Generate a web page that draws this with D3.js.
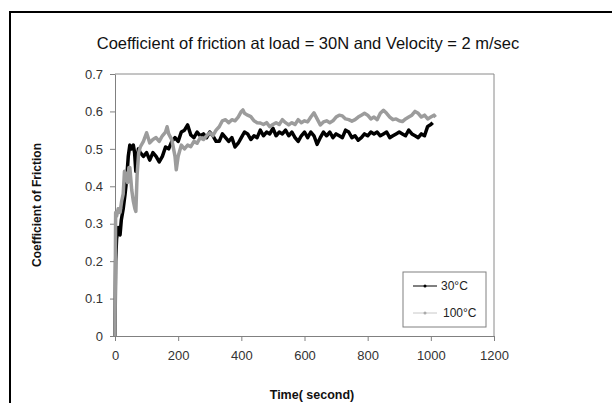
<!DOCTYPE html>
<html>
<head>
<meta charset="utf-8">
<script src="https://cdn.jsdelivr.net/npm/d3@7"></script>
<style>
  body { margin: 0; background: #fff; }
  svg { display: block; font-family: "Liberation Sans", Arial, sans-serif; }
</style>
</head>
<body>
<div id="chart"></div>
<script>
const width = 612,
    height = 403,
    margin = ({ top: 74, right: 118, bottom: 67, left: 115 });

// data (time in s, coefficient of friction)
const time30 = [0, 2, 5, 10, 16, 20, 26, 32, 37, 42, 47, 52, 58, 62, 66, 70, 74, 80,
  90, 100, 110, 120, 130, 140, 150, 160, 170, 180, 190, 200, 210, 220, 230, 240, 250, 260, 270, 280, 290,
  300, 310, 320, 330, 340, 350, 360, 370, 380, 390, 400, 410, 420, 430, 440, 450, 460, 470, 480, 490,
  500, 510, 520, 530, 540, 550, 560, 570, 580, 590, 600, 610, 620, 630, 640, 650, 660, 670, 680, 690,
  700, 710, 720, 730, 740, 750, 760, 770, 780, 790, 800, 810, 820, 830, 840, 850, 860, 870, 880, 890,
  900, 910, 920, 930, 940, 950, 960, 970, 980, 990, 1000, 1006];
const friction30 = [0, 0.2, 0.26, 0.29, 0.27, 0.31, 0.34, 0.38, 0.42, 0.48, 0.51, 0.50, 0.51, 0.49, 0.44, 0.47, 0.50, 0.49,
  0.48, 0.49, 0.47, 0.49, 0.48, 0.465, 0.48, 0.505, 0.50, 0.52, 0.53, 0.52, 0.545, 0.55, 0.564, 0.537, 0.53, 0.545, 0.535, 0.54, 0.53,
  0.545, 0.535, 0.52, 0.52, 0.54, 0.53, 0.52, 0.53, 0.505, 0.515, 0.53, 0.545, 0.54, 0.525, 0.535, 0.53, 0.55, 0.535, 0.545, 0.54,
  0.555, 0.535, 0.545, 0.54, 0.55, 0.535, 0.545, 0.53, 0.52, 0.535, 0.545, 0.53, 0.545, 0.535, 0.512, 0.53, 0.545, 0.535, 0.545, 0.53,
  0.54, 0.535, 0.53, 0.55, 0.545, 0.53, 0.535, 0.523, 0.53, 0.54, 0.535, 0.545, 0.54, 0.545, 0.535, 0.54, 0.545, 0.53, 0.535, 0.54,
  0.545, 0.54, 0.535, 0.55, 0.54, 0.535, 0.53, 0.54, 0.535, 0.56, 0.565, 0.57];

const time100 = [0, 2, 5, 10, 16, 21, 26, 30, 35, 40, 44, 47, 50, 53, 58, 63, 66, 70, 75, 80,
  90, 100, 110, 120, 130, 140, 150, 160, 165, 170, 180, 190, 194, 200, 210, 220, 230, 240, 250, 260, 270, 280, 290,
  300, 310, 320, 330, 340, 350, 360, 370, 380, 390, 400, 405, 410, 420, 430, 440, 450, 460, 470, 480, 490,
  500, 510, 520, 530, 540, 550, 560, 570, 580, 590, 600, 610, 620, 630, 640, 650, 660, 670, 680, 690,
  700, 710, 720, 730, 740, 750, 760, 770, 780, 790, 800, 810, 820, 830, 840, 850, 860, 870, 880, 890,
  900, 910, 920, 930, 940, 950, 960, 970, 980, 990, 1000, 1010, 1015];
const friction100 = [0, 0.33, 0.32, 0.34, 0.33, 0.36, 0.38, 0.44, 0.43, 0.41, 0.45, 0.45, 0.42, 0.39, 0.36, 0.34, 0.333, 0.43, 0.49, 0.505,
  0.52, 0.543, 0.516, 0.525, 0.53, 0.52, 0.535, 0.545, 0.559, 0.54, 0.524, 0.48, 0.444, 0.48, 0.51, 0.5, 0.51, 0.506, 0.52, 0.515, 0.53, 0.525, 0.535,
  0.543, 0.535, 0.55, 0.559, 0.575, 0.578, 0.57, 0.578, 0.575, 0.585, 0.6, 0.604, 0.595, 0.59, 0.586, 0.575, 0.57, 0.569, 0.565, 0.57, 0.559,
  0.565, 0.57, 0.565, 0.578, 0.57, 0.564, 0.57, 0.565, 0.578, 0.57, 0.575, 0.572, 0.585, 0.596, 0.58, 0.564, 0.572, 0.575, 0.57, 0.575,
  0.585, 0.59, 0.588, 0.58, 0.578, 0.574, 0.578, 0.585, 0.59, 0.595, 0.59, 0.58, 0.585, 0.578, 0.595, 0.603, 0.595, 0.585, 0.578, 0.58,
  0.575, 0.573, 0.58, 0.585, 0.59, 0.6, 0.595, 0.585, 0.59, 0.58, 0.585, 0.59, 0.585];

const xTicks = [0, 200, 400, 600, 800, 1000, 1200];
const yTicks = [0, 0.1, 0.2, 0.3, 0.4, 0.5, 0.6, 0.7];
const seriesNames = ["30°C", "100°C"];
const seriesColors = ["#000000", "#9c9c9c"];

const svg = d3.select("#chart")
    .append("svg")
    .attr("width", width)
    .attr("height", height);

// outer chart frame (no bottom edge visible)
svg.append("path")
    .attr("d", "M10,403 V12 H612")
    .attr("fill", "none")
    .attr("stroke", "#000")
    .attr("stroke-width", 2);

let x = d3.scaleLinear()
    .domain([0, 1200])
    .range([margin.left, width - margin.right]);

let y = d3.scaleLinear()
    .domain([0, 0.7])
    .range([height - margin.bottom, margin.top]);

// plot area border on top and right
svg.append("path")
    .attr("d", `M${x(0)},${y(0.7)} H${x(1200)} V${y(0)}`)
    .attr("fill", "none")
    .attr("stroke", "#8a8a8a")
    .attr("stroke-width", 1);

svg.append("g")
    .attr("transform", `translate(${margin.left},0)`)
    .call(d3.axisLeft(y)
      .tickValues(yTicks)
      .tickFormat(d => d === 0 ? "0" : d3.format(".1f")(d))
      .tickSize(5)
      .tickSizeOuter(0)
    )
    .call(g => g.select(".domain").attr("stroke", "#808080"))
    .call(g => g.selectAll(".tick line").attr("stroke", "#808080"))
    .call(g => g.selectAll(".tick text")
      .attr("x", -12)
      .attr("fill", "#333")
      .attr("font-size", 13)
      .attr("font-family", "Liberation Sans, Arial, sans-serif"));

svg.append("g")
    .attr("transform", `translate(0,${height - margin.bottom})`)
    .call(d3.axisBottom(x)
      .tickValues(xTicks)
      .tickFormat(d3.format("d"))
      .tickSize(5)
      .tickSizeOuter(0)
    )
    .call(g => g.select(".domain").attr("stroke", "#808080"))
    .call(g => g.selectAll(".tick line").attr("stroke", "#808080"))
    .call(g => g.selectAll(".tick text")
      .attr("y", 15)
      .attr("fill", "#333")
      .attr("font-size", 13)
      .attr("font-family", "Liberation Sans, Arial, sans-serif"));

let line = d3.line()
    .x(d => x(d[0]))
    .y(d => y(d[1]));

const series = [
    d3.zip(time30, friction30),
    d3.zip(time100, friction100)
];

series.forEach((s, i) => {
    svg.append("path")
      .datum(s)
      .attr("d", line)
      .attr("fill", "none")
      .attr("stroke", seriesColors[i])
      .attr("stroke-width", 3.5)
      .attr("stroke-linejoin", "round");
});

// title
svg.append("text")
    .attr("x", 308)
    .attr("y", 49)
    .attr("text-anchor", "middle")
    .attr("font-size", 16.5)
    .attr("fill", "#111")
    .text("Coefficient of friction at load = 30N and Velocity = 2 m/sec");

svg.append("text")
    .attr("x", 312)
    .attr("y", 399)
    .attr("text-anchor", "middle")
    .attr("font-size", 12.5)
    .attr("font-weight", "bold")
    .attr("fill", "#111")
    .text("Time( second)");

svg.append("text")
    .attr("transform", `translate(41,${(y(0) + y(0.7)) / 2}) rotate(-90)`)
    .attr("text-anchor", "middle")
    .attr("font-size", 12)
    .attr("font-weight", "bold")
    .attr("fill", "#111")
    .text("Coefficient of Friction");

// legend
const legend = svg.append("g").attr("transform", "translate(403,272)");
legend.append("rect")
    .attr("width", 83)
    .attr("height", 55)
    .attr("fill", "#fff")
    .attr("stroke", "#808080");

seriesNames.forEach((name, i) => {
    const ly = 14 + i * 27;
    legend.append("line")
      .attr("x1", 10).attr("x2", 34)
      .attr("y1", ly).attr("y2", ly)
      .attr("stroke", i === 0 ? "#000" : "#c8c8c8")
      .attr("stroke-width", 1);
    legend.append("circle")
      .attr("cx", 22).attr("cy", ly).attr("r", 1.5)
      .attr("fill", i === 0 ? "#000" : "#aaa");
    legend.append("text")
      .attr("x", i === 0 ? 38 : 40)
      .attr("y", ly + 4)
      .attr("font-size", 12)
      .attr("fill", "#222")
      .text(name);
});
</script>
</body>
</html>
